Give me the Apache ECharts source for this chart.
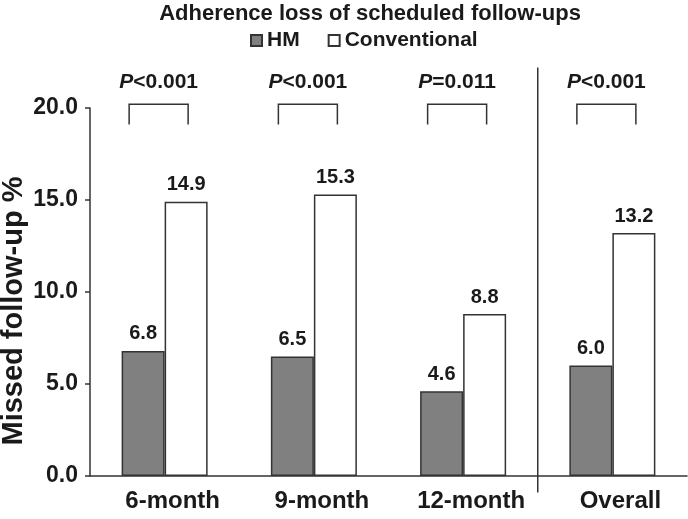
<!DOCTYPE html>
<html lang="en">

<head>
  <meta charset="UTF-8" />
  <title>Adherence loss of scheduled follow-ups</title>
  <script src="https://cdn.jsdelivr.net/npm/echarts@6/dist/echarts.min.js"></script>
  <style>
    html, body { margin: 0; padding: 0; background: #fff; }
  </style>
</head>

<body>
  <div id="main" style="width: 688px;height:519px;"></div>
  <script type="text/javascript">
    // data
    const categories = ['6-month', '9-month', '12-month', 'Overall']
    const hmValues = [6.8, 6.5, 4.6, 6.0]
    const convValues = [14.9, 15.3, 8.8, 13.2]
    const pLabels = ['<0.001', '<0.001', '=0.011', '<0.001']

    const FONT = '"Liberation Sans", Arial, sans-serif'
    const INK = '#1a1a1a'

    var myChart = echarts.init(document.getElementById('main'))

    // bracket + P value above each pair, divider before "Overall"
    function renderBracket(params, api) {
      var i = api.value(0)
      var band = api.size([1, 0])[0]
      var cx = api.coord([i, 0])[0] - 6
      var yTop = api.coord([i, 20.2])[1]
      var yLeg = api.coord([i, 19.1])[1]
      var yTxt = api.coord([i, 21.4])[1]
      var half = 29.5
      var children = [{
        type: 'polyline',
        shape: { points: [[cx - half, yLeg], [cx - half, yTop], [cx + half, yTop], [cx + half, yLeg]] },
        style: { stroke: '#333', lineWidth: 1.5, fill: null }
      }, {
        type: 'text',
        style: {
          text: '{i|P}{n|' + pLabels[params.dataIndex] + '}',
          x: cx,
          y: yTxt,
          align: 'center',
          verticalAlign: 'middle',
          rich: {
            i: { fontStyle: 'italic', fontWeight: 'bold', fontSize: 21, fontFamily: FONT, fill: INK },
            n: { fontWeight: 'bold', fontSize: 21, fontFamily: FONT, fill: INK }
          }
        }
      }]
      if (i === categories.length - 1) {
        var dx = api.coord([i, 0])[0] - band / 2
        children.push({
          type: 'line',
          shape: { x1: dx, y1: api.coord([i, 22.2])[1], x2: dx, y2: api.coord([i, -0.9])[1] },
          style: { stroke: '#333', lineWidth: 1.5 }
        })
      }
      return { type: 'group', children: children }
    }

    var option = {
      animation: false,
      title: {
        text: 'Adherence loss of scheduled follow-ups',
        left: 365,
        textAlign: 'center',
        top: -2,
        textStyle: { fontFamily: FONT, fontSize: 22, fontWeight: 'bold', color: INK }
      },
      legend: {
        data: ['HM', 'Conventional'],
        left: 250,
        top: 30,
        padding: 0,
        itemWidth: 11,
        itemHeight: 11,
        itemGap: 28,
        icon: 'rect',
        textStyle: { fontFamily: FONT, fontSize: 21, fontWeight: 'bold', color: INK }
      },
      grid: { left: 90, right: 1, top: 108, bottom: 43, outerBoundsMode: 'none', containLabel: false },
      xAxis: {
        type: 'category',
        data: categories,
        axisLine: { lineStyle: { color: '#333', width: 1.5 } },
        axisTick: { length: 5, lineStyle: { color: '#333', width: 1.5 } },
        axisLabel: {
          fontFamily: FONT, fontSize: 24, fontWeight: 'bold', color: INK, margin: 13,
          padding: [0, 0, 0, 16]
        }
      },
      yAxis: {
        type: 'value',
        min: 0,
        max: 20,
        interval: 5,
        name: 'Missed follow-up %',
        nameLocation: 'middle',
        nameRotate: 90,
        nameGap: 62,
        nameMoveOverlap: false,
        nameTextStyle: {
          fontFamily: FONT, fontSize: 29, fontWeight: 'bold', color: INK,
          padding: [0, 38, 0, 0]
        },
        axisLine: { show: true, lineStyle: { color: '#333', width: 1.5 } },
        axisTick: { show: true, length: 5, lineStyle: { color: '#333', width: 1.5 } },
        splitLine: { show: false },
        axisLabel: {
          fontFamily: FONT, fontSize: 23, fontWeight: 'bold', color: INK, margin: 12,
          formatter: function (v) { return v.toFixed(1) }
        }
      },
      series: [{
        name: 'HM',
        type: 'bar',
        data: hmValues,
        barWidth: 43,
        barGap: '0%',
        itemStyle: { color: '#808080', borderColor: '#333', borderWidth: 1.5 },
        label: {
          show: true, position: 'top', distance: 7,
          fontFamily: FONT, fontSize: 20, fontWeight: 'bold', color: INK,
          formatter: function (p) { return p.value.toFixed(1) }
        }
      }, {
        name: 'Conventional',
        type: 'bar',
        data: convValues,
        barWidth: 43,
        itemStyle: { color: '#ffffff', borderColor: '#333', borderWidth: 1.5 },
        label: {
          show: true, position: 'top', distance: 7,
          fontFamily: FONT, fontSize: 20, fontWeight: 'bold', color: INK,
          formatter: function (p) { return p.value.toFixed(1) }
        }
      }, {
        type: 'custom',
        clip: false,
        silent: true,
        data: categories.map(function (c, i) { return [i] }),
        encode: { x: 0 },
        renderItem: renderBracket
      }]
    }

    myChart.setOption(option)
  </script>
</body>

</html>
